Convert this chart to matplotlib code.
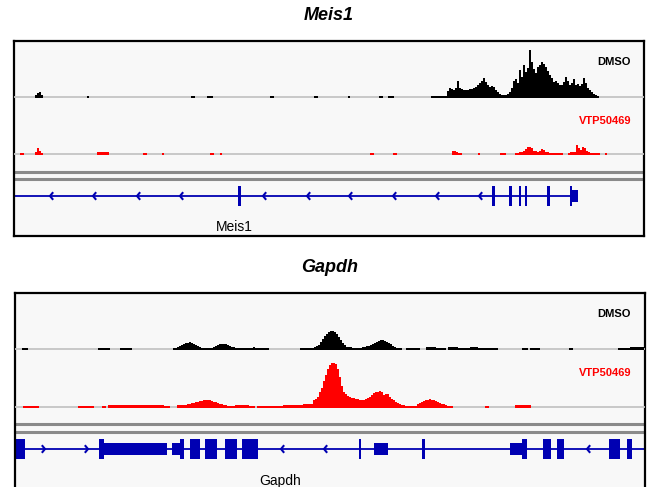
import matplotlib
matplotlib.use("Agg")
import matplotlib.pyplot as plt

plt.rcParams['font.family'] = ['Liberation Sans', 'DejaVu Sans']

# coverage tracks: runs of (start position, heights of consecutive 2-unit bins)
BIN = 2
meis1_dmso = [
    (35, [2, 4, 5, 2]), (87, [1]), (191, [1, 1]), (207, [1, 1, 1]),
    (270, [1, 1]), (314, [1, 1]), (348, [1]), (379, [1, 1]), (388, [1, 1, 1]),
    (431, [1] * 8),
    (447, [6, 9, 8, 7, 9, 16, 9, 8, 7, 7, 7, 8, 8, 9, 10, 12, 14, 16, 19, 15,
           12, 10, 11, 10, 7, 5, 3, 2, 2, 2, 3, 5, 9, 16, 18, 14, 27, 20, 32, 25,
           29, 47, 35, 28, 24, 30, 32, 35, 33, 30, 26, 22, 19, 15, 16, 14, 12, 12, 15, 20,
           16, 12, 14, 18, 12, 13, 11, 13, 19, 14, 9, 7, 5, 3, 2, 1]),
]
meis1_vtp = [
    (20, [1, 1]), (35, [2, 6, 3, 1]), (97, [1.5] * 3), (103, [1.5] * 3),
    (143, [1, 1]), (162, [1]), (210, [1, 1]), (220, [1]), (370, [1, 1]),
    (393, [1, 1]), (452, [3, 3, 2, 1, 1]), (478, [1]), (500, [1, 1, 1]),
    (515, [1, 1, 2, 2, 3, 5, 7, 7, 6, 3, 3, 2, 3, 5, 4, 2, 2, 1, 1, 1, 1, 1, 1, 1]),
    (568, [1, 2, 2, 2, 9, 6, 4, 7, 6, 3, 2, 1, 1, 1, 1, 1]), (605, [1]),
]
gapdh_dmso = [
    (22, [1, 1, 1]), (98, [1] * 6), (120, [1] * 6),
    (173, [1, 1, 2, 3, 4, 5, 6, 6, 7, 6, 5, 4, 3, 2, 1, 1, 1, 1, 1, 1]),
    (213, [2, 3, 4, 5, 5, 5, 5, 4, 3, 2, 2, 1, 1, 1, 1, 1, 1, 1, 1, 1, 2, 1, 1, 1, 1, 1, 1, 1]),
    (300, [1] * 7),
    (314, [2, 3, 4, 7, 10, 13, 15, 17, 18, 18, 17, 15, 12, 9, 6, 4, 2, 2, 2]),
    (352, [1, 1, 1, 1, 1, 2, 2, 3, 3, 4, 5, 6, 7, 8, 9, 9, 8, 7, 6, 5, 3, 2, 1, 1, 1]),
    (406, [1] * 7), (426, [1.5] * 5 + [1] * 5), (448, [1.5] * 5 + [1] * 6),
    (470, [1.5] * 4 + [1] * 10), (522, [1] * 3), (530, [1] * 5), (569, [1, 1]),
    (618, [1] * 6), (630, [1.5] * 7),
]
gapdh_vtp = [
    (23, [1] * 8), (78, [1] * 8), (102, [1, 1]), (108, [1.5] * 7), (122, [2] * 18),
    (158, [1.5] * 3 + [1] * 3),
    (177, [2, 2, 2, 2, 2, 3, 3, 4, 4, 5, 5, 6, 6, 7, 7, 7, 7, 6, 5, 5, 4, 3, 3, 2, 2, 1, 1, 1, 1]),
    (235, [1.5] * 7 + [1] * 3), (257, [1] * 13),
    (283, [2, 2, 2, 2, 2, 2, 2, 2, 2, 2, 2.5, 2.5, 3]),
    (309, [3, 3, 7, 8, 10, 15, 19, 26, 32, 38, 42, 44, 44, 43, 38, 30, 21, 15, 13, 11,
           10, 9, 9, 8, 8, 7, 7, 7, 8, 9, 10, 12, 14, 15, 15, 16, 15, 12, 13, 13,
           10, 8, 7, 5, 4, 3, 2, 2, 1, 1, 1, 1, 1, 1, 3, 4, 5, 6, 7, 7,
           8, 7, 7, 6, 5, 4, 3, 3, 2, 1, 1, 1]),
    (485, [1, 1]), (515, [1.5] * 8),
]

# gene models: (start, end, kind), intron arrows, line end
meis1_exons = [(238, 240.5, 'cds'), (492, 494.5, 'cds'), (509, 511.5, 'cds'),
               (518.5, 521, 'cds'), (524.5, 527, 'cds'), (547, 549.5, 'cds'),
               (569.5, 572, 'cds'), (572, 578, 'utr')]
meis1_arrows = [50, 93, 137, 180, 263, 307, 349, 393, 436, 479]
meis1_arrow_dir = ['<'] * 10
meis1_line = (14, 575)
gapdh_exons = [(16, 25, 'cds'), (98.5, 103.5, 'cds'), (103.5, 167, 'utr'),
               (172, 180, 'utr'), (180, 184, 'cds'), (190, 200, 'cds'),
               (205, 217, 'cds'), (225, 237, 'cds'), (242, 258, 'cds'),
               (359, 361, 'cds'), (374, 388, 'utr'), (422, 424.5, 'cds'),
               (510, 522, 'utr'), (522, 527, 'cds'), (543, 551, 'cds'),
               (557, 564, 'cds'), (609, 620, 'cds'), (627, 632, 'cds')]
gapdh_arrows = [45, 88, 281, 324, 587]
gapdh_arrow_dir = ['>', '>', '<', '<', '<']
gapdh_line = (15, 645)

W, H = 652, 487
fig = plt.figure(figsize=(W / 100, H / 100), dpi=100)
BG = '#f8f8f8'
BLUE = '#0000b2'


def add_ax(x0, y0, x1, y1):
    return fig.add_axes([x0 / W, 1 - y1 / H, (x1 - x0) / W, (y1 - y0) / H])


def draw_track(x0, x1, ytop, ybase, runs, color, label, ymax):
    ax = add_ax(x0, ytop, x1, ybase + 1)
    ax.set_xlim(x0, x1)
    ax.set_ylim(-1, ymax)
    ax.axis('off')
    ax.axhline(-0.2, color='#c4c4c4', lw=1.3, zorder=1)
    for start, hs in runs:
        xs = [start + i * BIN for i in range(len(hs) + 1)]
        ax.stairs([h + 0.4 for h in hs], xs, baseline=-0.6, fill=True,
                  color=color, lw=0, zorder=2)
    ax.text(631, ymax * 0.62, label, ha='right', va='center', fontsize=8,
            fontweight='bold', color=color)


def draw_panel(title, box, tracks, sep_y, gene_y, line, exons, arrows, dirs,
               gene_label):
    x0, y0, x1, y1 = box
    fig.text((x0 + x1) / 2 / W, 1 - title[1] / H, title[0], ha='center',
             va='center', fontsize=13, fontweight='bold', style='italic')
    fr = add_ax(x0, y0, x1, y1)
    fr.set_xlim(x0, x1)
    fr.set_ylim(y1, y0)
    fr.set_facecolor(BG)
    fr.set_xticks([])
    fr.set_yticks([])
    for s in fr.spines.values():
        s.set_linewidth(1.6)
    for sy in sep_y:
        fr.axhline(sy, color='#8a8a8a', lw=2.2)
    fr.plot(line, [gene_y, gene_y], color=BLUE, lw=1.3)
    for a, s, k in exons:
        half = 10 if k == 'cds' else 6
        fr.broken_barh([(a, s - a)], (gene_y - half, 2 * half), color=BLUE, lw=0)
    for ax_, d in zip(arrows, dirs):
        sgn = 1 if d == '<' else -1
        fr.plot([ax_ + 2.5 * sgn, ax_, ax_ + 2.5 * sgn],
                [gene_y - 3, gene_y, gene_y + 3], color=BLUE, lw=1.5)
    fr.text(gene_label[1], gene_label[2], gene_label[0], ha='center',
            va='center', fontsize=10)
    for ytop, ybase, runs, color, label in tracks:
        draw_track(x0, x1, ytop, ybase, runs, color, label, ybase - ytop)


draw_panel(('Meis1', 16), (14, 41, 644, 236),
           [(41, 97, meis1_dmso, 'black', 'DMSO'),
            (100, 154, meis1_vtp, '#ff0000', 'VTP50469')],
           [171.5, 178.5], 196, meis1_line, meis1_exons, meis1_arrows,
           meis1_arrow_dir, ('Meis1', 234, 227))

draw_panel(('Gapdh', 268), (15, 293, 645, 500),
           [(293, 349, gapdh_dmso, 'black', 'DMSO'),
            (352, 407, gapdh_vtp, '#ff0000', 'VTP50469')],
           [424.5, 432], 449, gapdh_line, gapdh_exons, gapdh_arrows,
           gapdh_arrow_dir, ('Gapdh', 280, 481))

fig.savefig('out.png', dpi=100, facecolor='white')
